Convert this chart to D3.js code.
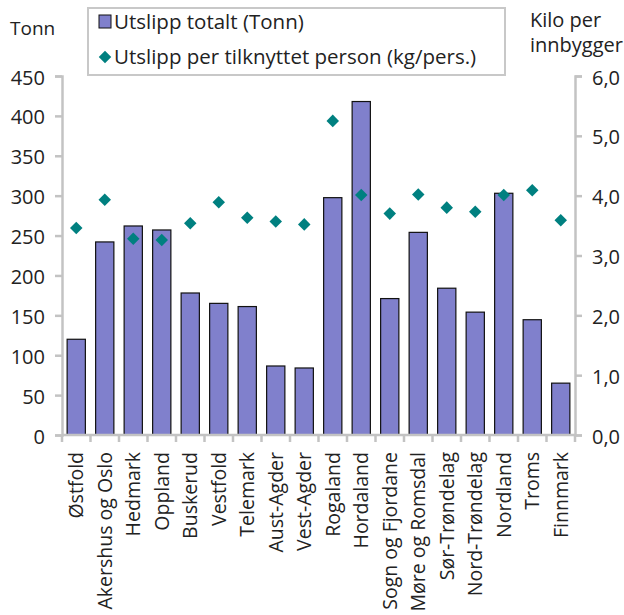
<!DOCTYPE html>
<html><head><meta charset="utf-8">
<script src="https://cdn.jsdelivr.net/npm/d3@7"></script>
<style>body{margin:0;background:#fff}svg{display:block}text{font-family:"Open Sans",sans-serif;fill:#222;font-weight:400}</style>
</head><body><div id="c"></div>
<script>
const categories = ["Østfold","Akershus og Oslo","Hedmark","Oppland","Buskerud","Vestfold","Telemark","Aust-Agder","Vest-Agder","Rogaland","Hordaland","Sogn og Fjordane","Møre og Romsdal","Sør-Trøndelag","Nord-Trøndelag","Nordland","Troms","Finnmark"];
const totalTonn = [120,242,262,257,178,165,161,86.5,84,297.5,418,171,254,184,154,303,144.5,65];
const perPerson = [3.46,3.93,3.28,3.26,3.54,3.89,3.63,3.57,3.52,5.25,4.01,3.70,4.02,3.80,3.73,4.01,4.09,3.59];
const leftTicks = [0,50,100,150,200,250,300,350,400,450];
const rightTicks = [0,1,2,3,4,5,6];
const seriesNames = ["Utslipp totalt (Tonn)","Utslipp per tilknyttet person (kg/pers.)"];

const W=624,H=615;
const FS=20;
const svg=d3.select("#c").append("svg").attr("width",W).attr("height",H);
const x0=62,x1=575,yTop=76,yBot=435;
const x=d3.scaleBand().domain(categories).range([x0,x1]).paddingInner(0.36).paddingOuter(0.18);
const xb=d3.scaleBand().domain(categories).range([x0,x1]);
const yL=d3.scaleLinear().domain([0,450]).range([yBot,yTop]);
const yR=d3.scaleLinear().domain([0,6]).range([yBot,yTop]);
const axisCol="#c3c3c3";

// bars
svg.append("g").selectAll("rect").data(categories).join("rect")
 .attr("x",d=>x(d)).attr("width",x.bandwidth())
 .attr("y",(d,i)=>yL(totalTonn[i])).attr("height",(d,i)=>yBot-yL(totalTonn[i]))
 .attr("fill","#8080cc").attr("stroke","#111").attr("stroke-width",1.2);

// axes
const gL=svg.append("g").attr("transform",`translate(${x0},0)`)
 .call(d3.axisLeft(yL).tickValues(leftTicks).tickSize(7).tickPadding(10));
const gR=svg.append("g").attr("transform",`translate(${x1},0)`)
 .call(d3.axisRight(yR).tickValues(rightTicks).tickSize(7).tickPadding(10).tickFormat(d=>d3.format(".1f")(d).replace(".",",")));
[gL,gR].forEach(g=>{g.select(".domain").attr("stroke",axisCol).attr("stroke-width",2.5);
 g.selectAll(".tick line").attr("stroke",axisCol).attr("stroke-width",2.5);
 g.selectAll("text").style("font-size",FS+"px").attr("fill","#222").attr("dy","0.4em");});

// x axis
const gX=svg.append("g");
gX.append("line").attr("x1",x0).attr("x2",x1).attr("y1",yBot).attr("y2",yBot).attr("stroke",axisCol).attr("stroke-width",2.5);
const bounds=categories.map(c=>xb(c)).concat([x1]);
gX.selectAll("line.t").data(bounds).join("line").attr("class","t")
 .attr("x1",d=>d).attr("x2",d=>d).attr("y1",yBot).attr("y2",yBot+7).attr("stroke",axisCol).attr("stroke-width",2.5);
gX.selectAll("text").data(categories).join("text")
 .attr("transform",d=>`translate(${xb(d)+xb.bandwidth()/2+7},${yBot+17}) rotate(-90)`)
 .attr("text-anchor","end").style("font-size","19.5px").text(d=>d);

// diamonds
const sym=d3.symbol().type(d3.symbolDiamond2).size(100);
svg.append("g").selectAll("path").data(categories).join("path")
 .attr("d",sym).attr("transform",(d,i)=>`translate(${xb(d)+xb.bandwidth()/2},${yR(perPerson[i])})`)
 .attr("fill","#008080");

// axis titles
svg.append("text").attr("x",10).attr("y",35).style("font-size","19px").text("Tonn");
svg.append("text").attr("x",530).attr("y",27).style("font-size",FS+"px").text("Kilo per");
svg.append("text").attr("x",530).attr("y",52).style("font-size",FS+"px").text("innbygger");

// legend
const lg=svg.append("g");
lg.append("rect").attr("x",88).attr("y",8).attr("width",417).attr("height",67).attr("fill","#fff").attr("stroke","#c8c8c8").attr("stroke-width",2);
lg.append("rect").attr("x",99).attr("y",15).attr("width",12).attr("height",13).attr("fill","#8080cc").attr("stroke","#111").attr("stroke-width",1);
lg.append("path").attr("d",sym).attr("transform","translate(105,57)").attr("fill","#008080");
lg.append("text").attr("x",114).attr("y",29).style("font-size","20.5px").text(seriesNames[0]);
lg.append("text").attr("x",114).attr("y",64).style("font-size","20.5px").text(seriesNames[1]);
</script></body></html>
